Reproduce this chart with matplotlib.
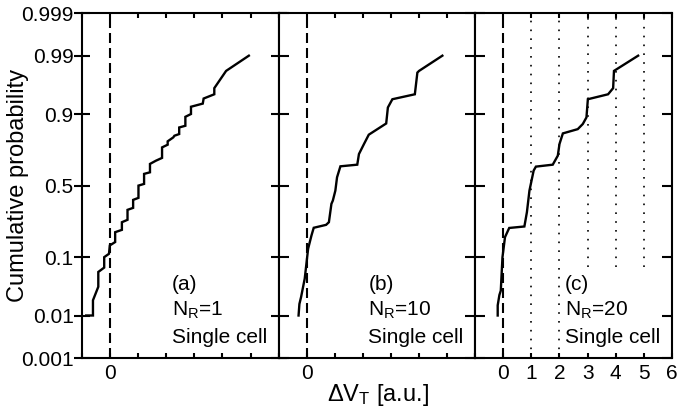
import math
import numpy as np
import matplotlib
matplotlib.use("Agg")
import matplotlib.pyplot as plt
from matplotlib.ticker import FixedLocator, FixedFormatter

plt.rcParams['font.family'] = ['Liberation Sans', 'DejaVu Sans']
plt.rcParams['mathtext.fontset'] = 'custom'
plt.rcParams['mathtext.rm'] = 'Liberation Sans'
plt.rcParams['mathtext.it'] = 'Liberation Sans:italic'
plt.rcParams['mathtext.bf'] = 'Liberation Sans:bold'

# ---------------- data ----------------
xa = [-0.85, -0.61, -0.61, -0.42, -0.42, -0.21, -0.21, -0.04, -0.01, 0.18, 0.18,
      0.42, 0.42, 0.62, 0.62, 0.82, 0.82, 1.01, 1.01, 1.21, 1.21, 1.42, 1.42,
      1.63, 1.85, 1.85, 2.05, 2.05, 2.25, 2.29, 2.46, 2.46, 2.68, 2.68, 2.88,
      2.88, 3.30, 3.33, 3.71, 3.71, 4.13, 4.94]
pa = [0.01, 0.01, 0.02, 0.035, 0.061, 0.071, 0.10, 0.111, 0.142, 0.156, 0.202,
      0.214, 0.256, 0.270, 0.332, 0.345, 0.399, 0.413, 0.50, 0.512, 0.583,
      0.594, 0.651, 0.672, 0.690, 0.753, 0.768, 0.786, 0.806, 0.814, 0.822,
      0.851, 0.858, 0.891, 0.900, 0.921, 0.929, 0.9405, 0.949, 0.9595, 0.980,
      0.990]

xb = [-0.29, -0.26, -0.20, -0.07, 0.05, 0.17, 0.25, 0.69, 0.79, 0.88, 0.93,
      1.02, 1.08, 1.20, 1.80, 1.86, 2.04, 2.21, 2.83, 2.89, 3.05, 3.85, 3.94,
      4.00, 4.83]
pb = [0.01, 0.017, 0.023, 0.048, 0.129, 0.186, 0.225, 0.241, 0.256, 0.372,
      0.394, 0.464, 0.559, 0.635, 0.646, 0.714, 0.772, 0.819, 0.867, 0.919,
      0.939, 0.949, 0.9785, 0.980, 0.990]

xc = [-0.20, -0.20, -0.14, -0.09, -0.03, 0.06, 0.21, 0.75, 0.84, 0.93, 1.08,
      1.16, 1.76, 1.94, 2.00, 2.12, 2.65, 2.83, 2.96, 3.01, 3.73, 3.91, 3.94,
      4.80]
pc = [0.01, 0.016, 0.025, 0.030, 0.100, 0.178, 0.224, 0.232, 0.317, 0.464,
      0.606, 0.633, 0.646, 0.704, 0.772, 0.825, 0.844, 0.865, 0.889, 0.939,
      0.949, 0.9595, 0.980, 0.990]

yticks = [0.001, 0.01, 0.1, 0.5, 0.9, 0.99, 0.999]
yticklabels = ['0.001', '0.01', '0.1', '0.5', '0.9', '0.99', '0.999']
xticks = [-1, 0, 1, 2, 3, 4, 5, 6]
panel_labels = ['(a)', '(b)', '(c)']
nr_labels = ['N$_\\mathrm{R}$=1', 'N$_\\mathrm{R}$=10', 'N$_\\mathrm{R}$=20']
cell_label = 'Single cell'
dotted_full = [1, 2]
dotted_short = [3, 4, 5]

# ---------------- probit scale ----------------
_a = [-3.969683028665376e+01, 2.209460984245205e+02, -2.759285104469687e+02,
      1.383577518672690e+02, -3.066479806614716e+01, 2.506628277459239e+00]
_b = [-5.447609879822406e+01, 1.615858368580409e+02, -1.556989798598866e+02,
      6.680131188771972e+01, -1.328068155288572e+01]
_c = [-7.784894002430293e-03, -3.223964580411365e-01, -2.400758277161838e+00,
      -2.549732539343734e+00, 4.374664141464968e+00, 2.938163982698783e+00]
_d = [7.784695709041462e-03, 3.224671290700398e-01, 2.445134137142996e+00,
      3.754408661907416e+00]


def ppf(p):
    p = np.clip(np.asarray(p, dtype=float), 1e-12, 1 - 1e-12)
    plow = 0.02425
    with np.errstate(all='ignore'):
        q = np.sqrt(-2 * np.log(p))
        lo = (((((_c[0]*q+_c[1])*q+_c[2])*q+_c[3])*q+_c[4])*q+_c[5]) / \
             ((((_d[0]*q+_d[1])*q+_d[2])*q+_d[3])*q+1)
        q2 = np.sqrt(-2 * np.log(1 - p))
        hi = -(((((_c[0]*q2+_c[1])*q2+_c[2])*q2+_c[3])*q2+_c[4])*q2+_c[5]) / \
             ((((_d[0]*q2+_d[1])*q2+_d[2])*q2+_d[3])*q2+1)
        qc = p - 0.5
        r = qc * qc
        mid = (((((_a[0]*r+_a[1])*r+_a[2])*r+_a[3])*r+_a[4])*r+_a[5])*qc / \
              (((((_b[0]*r+_b[1])*r+_b[2])*r+_b[3])*r+_b[4])*r+1)
    return np.where(p < plow, lo, np.where(p > 1 - plow, hi, mid))


_erf = np.vectorize(math.erf)


def cdf(z):
    z = np.asarray(z, dtype=float)
    return 0.5 * (1 + _erf(z / math.sqrt(2)))


# ---------------- figure ----------------
fig = plt.figure(figsize=(6.8, 4.07), dpi=100)
axes = fig.subplots(1, 3, sharey=True, gridspec_kw=dict(wspace=0))
fig.subplots_adjust(left=0.1206, right=0.988, top=0.968, bottom=0.120)

data = [(xa, pa), (xb, pb), (xc, pc)]
for ax in axes:
    ax.set_yscale('function', functions=(ppf, cdf))

for i, ax in enumerate(axes):
    ax.set_ylim(0.001, 0.999)
    ax.set_xlim(-1, 6)
    x, p = data[i]
    ax.plot(x, p, color='black', lw=1.7, solid_joinstyle='miter', zorder=3)
    ax.axvline(0, color='black', lw=1.5, ls=(0, (4.8, 2.4)), zorder=2)
    for sp in ax.spines.values():
        sp.set_linewidth(1.5)
    ax.xaxis.set_major_locator(FixedLocator(xticks))
    if i < 2:
        ax.xaxis.set_major_formatter(FixedFormatter(['', '0', '', '', '', '', '', '']))
    else:
        ax.xaxis.set_major_formatter(FixedFormatter(['', '0', '1', '2', '3', '4', '5', '6']))
    ax.xaxis.set_minor_locator(FixedLocator([]))
    ax.tick_params(axis='x', direction='in', top=True, bottom=True, length=3.5,
                   width=1.5, labelsize=15, pad=4)
    tr = ax.get_xaxis_transform()
    ax.text(2.2, 0.197, panel_labels[i], transform=tr, fontsize=15, va='baseline', ha='left')
    ax.text(2.2, 0.122, nr_labels[i], transform=tr, fontsize=15, va='baseline', ha='left')
    ax.text(2.2, 0.0435, cell_label, transform=tr, fontsize=15, va='baseline', ha='left')

axes[0].yaxis.set_major_locator(FixedLocator(yticks))
axes[0].yaxis.set_minor_locator(FixedLocator([]))
axes[0].yaxis.set_major_formatter(FixedFormatter(yticklabels))
axes[0].yaxis.set_minor_formatter(FixedFormatter([]))
for i, ax in enumerate(axes):
    if i == 0:
        ax.tick_params(axis='y', direction='inout', left=True, right=True,
                       length=11, width=1.5, labelsize=15, pad=0.5)
    else:
        ax.tick_params(axis='y', direction='in', left=True, right=True,
                       length=7.5, width=1.5, labelleft=False)

axc = axes[2]
for xv in dotted_full:
    axc.axvline(xv, color='black', lw=1.2, ls=(0, (1, 4.3)), zorder=1)
for xv in dotted_short:
    axc.axvline(xv, ymin=0.264, color='black', lw=1.2, ls=(0, (1, 4.3)), zorder=1)

fig.text(18 / 680, 0.5 * (0.968 + 0.120), 'Cumulative probability', rotation=90,
         fontsize=17, ha='center', va='center')
fig.text(378 / 680, 0.03, 'ΔV$_\\mathrm{T}$ [a.u.]', fontsize=17, ha='center', va='center')

fig.savefig('out.png', dpi=100)
